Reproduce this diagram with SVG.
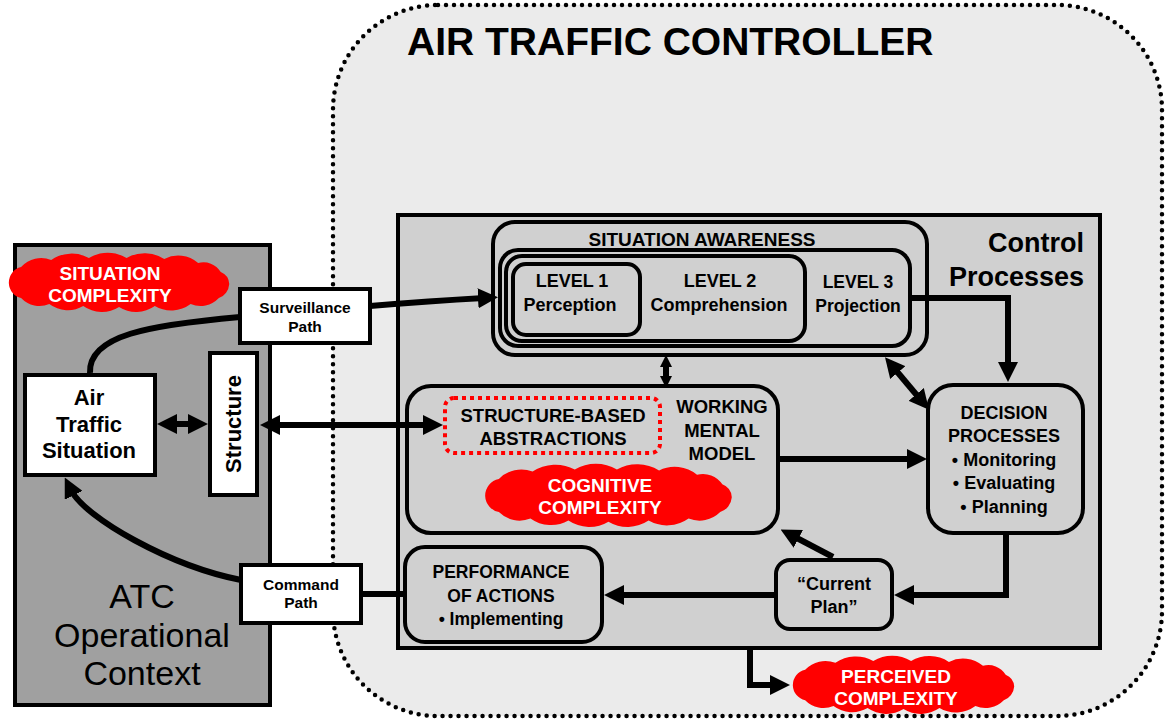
<svg xmlns="http://www.w3.org/2000/svg" width="1165" height="719" viewBox="0 0 1165 719">
<style>
text{font-family:"Liberation Sans",Arial,sans-serif;fill:#000}
.b{font-weight:bold}
.w{fill:#fff;font-weight:bold;font-size:19px}
.box{fill:#d0d0d0;stroke:#000;stroke-width:4}
.wb{fill:#fff;stroke:#000;stroke-width:4}
.c{fill:none;stroke:#000;stroke-width:6}
.m{text-anchor:middle}
</style>
<defs>
<marker id="ah" viewBox="0 0 20 20" markerWidth="20" markerHeight="20" markerUnits="userSpaceOnUse" refX="6" refY="10" orient="auto-start-reverse"><path d="M0,0 L20,10 L0,20 z" fill="#000"/></marker>
<marker id="as" viewBox="0 0 12 12" markerWidth="12" markerHeight="12" markerUnits="userSpaceOnUse" refX="3" refY="6" orient="auto-start-reverse"><path d="M0,0 L12,6 L0,12 z" fill="#000"/></marker>
<path id="cloud" fill="#ff0000" d="M3 31 A16 16 0 0 1 16 15 A30 30 0 0 1 48 8 A40 40 0 0 1 88 6 A40 40 0 0 1 128 6 A40 40 0 0 1 168 7 A34 34 0 0 1 204 11 A22 22 0 0 1 228 20 A14 14 0 0 1 237 32 A16 16 0 0 1 226 46 A28 28 0 0 1 196 52 A36 36 0 0 1 158 54 A36 36 0 0 1 120 55 A36 36 0 0 1 82 54 A34 34 0 0 1 46 52 A28 28 0 0 1 16 46 A16 16 0 0 1 3 31 Z"/>
</defs>
<rect width="1165" height="719" fill="#fff"/>

<g id="controller">
<rect x="333" y="5" width="829" height="711" rx="105" ry="105" fill="#ebebeb" stroke="#000" stroke-width="4.5" stroke-dasharray="0 8" stroke-linecap="round"/>
<text x="407" y="55" class="b" font-size="39">AIR TRAFFIC CONTROLLER</text>
</g>

<g id="atc-context">
<rect x="15" y="245" width="255" height="460" fill="#a0a0a0" stroke="#000" stroke-width="4"/>
<text class="m" font-size="34"><tspan x="142" y="608">ATC</tspan><tspan x="142" y="647">Operational</tspan><tspan x="142" y="685">Context</tspan></text>
</g>

<g id="situation-complexity">
<use href="#cloud" transform="translate(6,252) scale(0.942,1)"/>
<text class="w m"><tspan x="110" y="280">SITUATION</tspan><tspan x="110" y="302">COMPLEXITY</tspan></text>
</g>

<g id="control-processes">
<rect class="box" x="398" y="215" width="702" height="433"/>
<text class="b" font-size="27" text-anchor="end"><tspan x="1084" y="252">Control</tspan><tspan x="1084" y="286">Processes</tspan></text>
</g>

<g id="surveillance-path">
<rect class="wb" x="240" y="289" width="130" height="54"/>
<text class="b m" font-size="15.5"><tspan x="305" y="313">Surveillance</tspan><tspan x="305" y="332">Path</tspan></text>
</g>

<g id="command-path">
<rect class="wb" x="241" y="565" width="120" height="58"/>
<text class="b m" font-size="15.5"><tspan x="301" y="590">Command</tspan><tspan x="301" y="608">Path</tspan></text>
</g>

<g id="air-traffic-situation">
<rect class="wb" x="25" y="375" width="130" height="100"/>
<text class="b m" font-size="22"><tspan x="89" y="405">Air</tspan><tspan x="89" y="432">Traffic</tspan><tspan x="89" y="458">Situation</tspan></text>
</g>

<g id="structure">
<rect class="wb" x="210" y="353" width="47" height="142"/>
<text class="b m" font-size="22" transform="translate(241,424) rotate(-90)" x="0" y="0">Structure</text>
</g>

<g id="situation-awareness">
<rect class="box" x="493" y="222" width="434" height="133" rx="22"/>
<text class="b m" font-size="19" x="702" y="246">SITUATION AWARENESS</text>
<rect class="box" stroke-width="3.5" x="500" y="250" width="410" height="96" rx="18"/>
<rect class="box" stroke-width="3.5" x="506" y="256" width="299" height="85" rx="16"/>
<rect class="box" stroke-width="3.5" x="513" y="264" width="127" height="71" rx="13"/>
<text class="b m" font-size="18"><tspan x="572" y="287">LEVEL 1</tspan><tspan x="570" y="311">Perception</tspan></text>
<text class="b m" font-size="18"><tspan x="720" y="287">LEVEL 2</tspan><tspan x="719" y="311">Comprehension</tspan></text>
<text class="b m" font-size="17.5"><tspan x="858" y="288">LEVEL 3</tspan><tspan x="858" y="312">Projection</tspan></text>
</g>

<g id="working-mental-model">
<rect class="box" x="407" y="386" width="371" height="147" rx="24"/>
<rect x="445" y="398" width="215" height="55" rx="9" fill="none" stroke="#ff0000" stroke-width="4" stroke-dasharray="4 4"/>
<text class="b m" font-size="18.5"><tspan x="553" y="422">STRUCTURE-BASED</tspan><tspan x="553" y="445">ABSTRACTIONS</tspan></text>
<text class="b m" font-size="18.5"><tspan x="722" y="413">WORKING</tspan><tspan x="722" y="437">MENTAL</tspan><tspan x="722" y="460">MODEL</tspan></text>
</g>

<g id="decision-processes">
<rect class="box" x="928" y="385" width="155" height="148" rx="25"/>
<text class="b m" font-size="18"><tspan x="1004" y="419">DECISION</tspan><tspan x="1004" y="442">PROCESSES</tspan><tspan x="1004" y="466">• Monitoring</tspan><tspan x="1004" y="489">• Evaluating</tspan><tspan x="1004" y="513">• Planning</tspan></text>
</g>

<g id="current-plan">
<rect class="box" x="776" y="560" width="116" height="69" rx="14"/>
<text class="b m" font-size="18"><tspan x="834" y="590">“Current</tspan><tspan x="834" y="613">Plan”</tspan></text>
</g>

<g id="performance-of-actions">
<rect class="box" x="405" y="547" width="197" height="95" rx="20"/>
<text class="b m" font-size="17.5"><tspan x="501" y="578">PERFORMANCE</tspan><tspan x="501" y="602">OF ACTIONS</tspan><tspan x="501" y="625">• Implementing</tspan></text>
</g>

<g id="connectors">
<path class="c" d="M90 373 C88 335 150 325 240 317"/>
<path class="c" d="M370 306 Q430 301 484 298" marker-end="url(#ah)"/>
<path class="c" d="M910 298 H1008 V368" marker-end="url(#ah)"/>
<path class="c" stroke-width="4" d="M666 364 V379" marker-start="url(#as)" marker-end="url(#as)"/>
<path class="c" d="M894 368 L920 399" marker-start="url(#ah)" marker-end="url(#ah)"/>
<path class="c" d="M780 459 H913" marker-end="url(#ah)"/>
<path class="c" d="M274 425 H429" marker-start="url(#ah)" marker-end="url(#ah)"/>
<path class="c" d="M171 424 H194" marker-start="url(#ah)" marker-end="url(#ah)"/>
<path class="c" d="M1006 533 V595 H908" marker-end="url(#ah)"/>
<path class="c" d="M776 595 H618" marker-end="url(#ah)"/>
<path class="c" d="M833 557 L793 536" marker-end="url(#ah)"/>
<path class="c" d="M750 648 V685 H776" marker-end="url(#ah)"/>
<path class="c" d="M361 594 H405"/>
<path class="c" d="M241 580 C170 566 85 518 71 490" marker-end="url(#ah)"/>
</g>

<g id="cognitive-complexity">
<use href="#cloud" transform="translate(482,463) scale(1.054,1.067)"/>
<text class="w m"><tspan x="600" y="492">COGNITIVE</tspan><tspan x="600" y="514">COMPLEXITY</tspan></text>
</g>

<g id="perceived-complexity">
<use href="#cloud" transform="translate(790,655) scale(0.946,0.983)"/>
<text class="w m"><tspan x="896" y="683">PERCEIVED</tspan><tspan x="896" y="705">COMPLEXITY</tspan></text>
</g>
</svg>
